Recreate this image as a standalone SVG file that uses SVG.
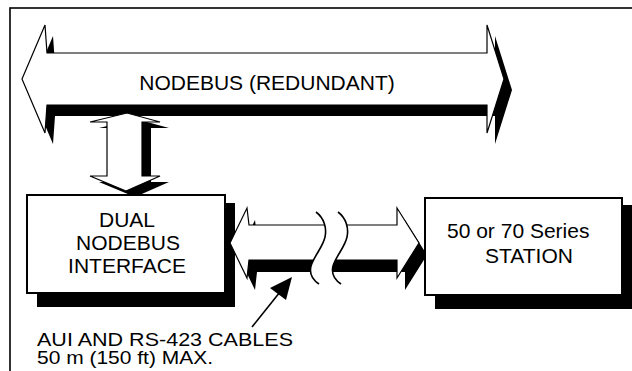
<svg xmlns="http://www.w3.org/2000/svg" width="632" height="371" viewBox="0 0 632 371">
<style>
text{font-family:"Liberation Sans",Arial,sans-serif;font-size:21px;fill:#000}
.small{font-size:18px}
.sh{fill:#000;stroke:none}
.wh{fill:#fff;stroke:#000;stroke-width:1.2;stroke-linejoin:miter}
.box{fill:#fff;stroke:#000;stroke-width:2}
.ln{fill:none;stroke:#000;stroke-width:1.6}
</style>
<rect x="0" y="0" width="632" height="371" fill="#fff"/>
<rect id="frame" x="10" y="8" width="650" height="400" fill="none" stroke="#000" stroke-width="1.6"/>
<g id="nodebus">
<path class="sh" transform="translate(8,11)" d="M22,79 L45,25 L47,53 L487,53 L487,25 L504,79 L487,133 L487,105 L47,105 L45,133 Z"/>
<path class="wh" d="M22,79 L45,25 L47,53 L487,53 L487,25 L504,79 L487,133 L487,105 L47,105 L45,133 Z"/>
<text x="267" y="90" text-anchor="middle">NODEBUS (REDUNDANT)</text>
</g>
<g id="connectors">
<g id="bus-link">
<path class="sh" transform="translate(9,6)" d="M90,122 L127,113 L160,122 L142,122 L142,176 L160,176 L126,191 L90,176 L107,176 L107,122 Z"/>
<path class="wh" d="M90,122 L127,113 L160,122 L142,122 L142,176 L160,176 L126,191 L90,176 L107,176 L107,122 Z"/>
</g>
</g>
<g id="dual-interface">
<rect class="sh" x="37" y="203" width="198" height="104"/>
<rect class="box" x="27" y="195" width="198" height="98"/>
<text x="127" y="227" text-anchor="middle">DUAL</text>
<text x="128" y="250" text-anchor="middle">NODEBUS</text>
<text x="127" y="273" text-anchor="middle">INTERFACE</text>
</g>
<g id="connectors2">
<g id="cable">
<path class="sh" transform="translate(8,12)" d="M230,243 L247,208 L249,225 L397,225 L397,208 L419,243 L397,278 L397,260 L249,260 L247,278 Z"/>
<path class="wh" d="M230,243 L247,208 L249,225 L397,225 L397,208 L419,243 L397,278 L397,260 L249,260 L247,278 Z"/>
<path fill="#fff" stroke="none" d="M316,212 C324,218 327,228 325,237 C323,247 314,256 311,266 C309,274 313,280 319,284 L341,284 C335,280 331,274 333,266 C336,256 345,247 347,237 C349,228 346,218 338,212 Z"/>
<path class="ln" d="M316,212 C324,218 327,228 325,237 C323,247 314,256 311,266 C309,274 313,280 319,284"/>
<path class="ln" d="M338,212 C346,218 349,228 347,237 C345,247 336,256 333,266 C331,274 335,280 341,284"/>
</g>
<g id="pointer">
<line class="ln" x1="252" y1="327" x2="280" y2="292"/>
<polygon class="sh" points="292,277 270,288 286,300"/>
</g>
</g>
<g id="station">
<rect class="sh" x="435" y="205" width="210" height="104"/>
<rect class="box" x="425" y="198" width="197" height="97"/>
<text x="447" y="238">50 or 70 Series</text>
<text x="485" y="263">STATION</text>
</g>
<g id="cable-label">
<text class="small" x="37" y="346" textLength="256" lengthAdjust="spacingAndGlyphs">AUI AND RS-423 CABLES</text>
<text class="small" x="37" y="364" textLength="176" lengthAdjust="spacingAndGlyphs">50 m (150 ft) MAX.</text>
</g>
</svg>
